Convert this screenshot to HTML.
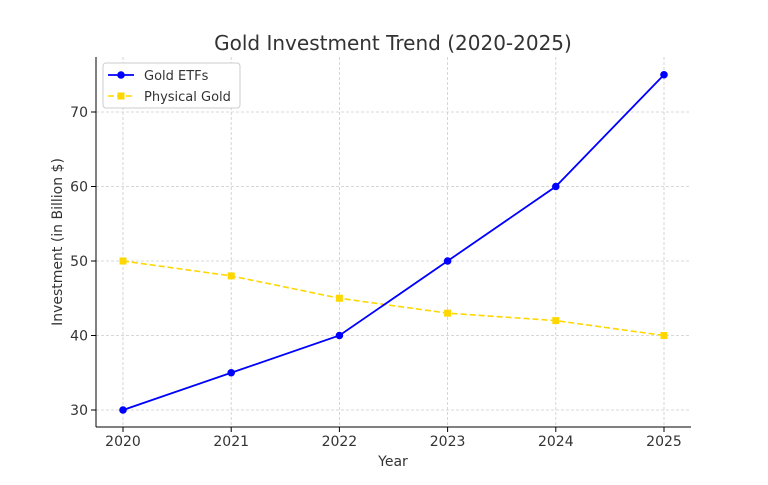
<!DOCTYPE html>
<html><head><meta charset="utf-8"><style>
body{margin:0;background:#fff;font-family:"Liberation Sans","DejaVu Sans",sans-serif}
</style></head><body>
<svg width="768" height="480" viewBox="0 0 768 480" id="chart" font-family="DejaVu Sans, Liberation Sans, sans-serif"></svg>
<script>
const years=[2020,2021,2022,2023,2024,2025];
const etfValues=[30,35,40,50,60,75];
const physicalValues=[50,48,45,43,42,40];
const yTicks=[30,40,50,60,70];
const NS="http://www.w3.org/2000/svg";
const svg=document.getElementById('chart');
const L=96,R=691,T=57,B=427;
function x(v){return 123+(v-2020)*(664-123)/5;}
function y(v){return 410-(v-30)*(410-112)/40;}
function mk(tag,attrs,name,parent){const e=document.createElementNS(NS,tag);for(const k in attrs)e.setAttribute(k,attrs[k]);


(parent||svg).appendChild(e);return e;}
// grid
years.forEach(v=>{mk('line',{x1:x(v),x2:x(v),y1:T,y2:B,stroke:'#ccc','stroke-dasharray':'3,2','stroke-width':0.8},'x-grid-line');});
yTicks.forEach(v=>{mk('line',{x1:L,x2:R,y1:y(v),y2:y(v),stroke:'#ccc','stroke-dasharray':'3,2','stroke-width':0.8},'y-grid-line');});
// axes
mk('line',{x1:L,x2:L,y1:T,y2:B,stroke:'#000','stroke-width':1},'y-axis');
mk('line',{x1:L,x2:R,y1:B,y2:B,stroke:'#000','stroke-width':1},'x-axis');
years.forEach(v=>{mk('line',{x1:x(v),x2:x(v),y1:B,y2:B+5,stroke:'#000'},'x-tick');
const t=mk('text',{x:x(v),y:B+19,'text-anchor':'middle','font-size':14,fill:'#333'},'x-tick-label');t.textContent=v;});
yTicks.forEach(v=>{mk('line',{x1:L-5,x2:L,y1:y(v),y2:y(v),stroke:'#000'},'y-tick');
const t=mk('text',{x:L-8,y:y(v)+5,'text-anchor':'end','font-size':14,fill:'#333'},'y-tick-label');t.textContent=v;});
// titles
let t=mk('text',{x:393,y:50,'text-anchor':'middle','font-size':20,fill:'#333'},'chart-title');t.textContent='Gold Investment Trend (2020-2025)';
t=mk('text',{x:393,y:466,'text-anchor':'middle','font-size':14,fill:'#333'},'x-axis-title');t.textContent='Year';
t=mk('text',{x:0,y:0,'text-anchor':'middle','font-size':14,fill:'#333',transform:'translate(62,242) rotate(-90)'},'y-axis-title');t.textContent='Investment (in Billion $)';
// series
mk('polyline',{points:years.map((v,i)=>x(v)+','+y(physicalValues[i])).join(' '),fill:'none',stroke:'#FFD700','stroke-width':1.6,'stroke-dasharray':'6,3'},'physical-gold-line');
years.forEach((v,i)=>mk('rect',{x:x(v)-3.5,y:y(physicalValues[i])-3.5,width:7,height:7,fill:'#FFD700'},'physical-gold-marker'));
mk('polyline',{points:years.map((v,i)=>x(v)+','+y(etfValues[i])).join(' '),fill:'none',stroke:'#0000FF','stroke-width':1.8},'gold-etf-line');
years.forEach((v,i)=>mk('circle',{cx:x(v),cy:y(etfValues[i]),r:3.8,fill:'#0000FF'},'gold-etf-marker'));
// legend
const g=mk('g',{},'legend');
mk('rect',{x:103,y:63,width:137,height:45,rx:3,fill:'#fff',stroke:'#ccc'},'legend-box',g);
mk('line',{x1:108,x2:134,y1:75,y2:75,stroke:'#0000FF','stroke-width':1.8},'legend-etf-line',g);
mk('circle',{cx:121,cy:75,r:3.8,fill:'#0000FF'},'legend-etf-marker',g);
t=mk('text',{x:144,y:80,'font-size':13,fill:'#333'},'legend-etf-label',g);t.textContent='Gold ETFs';
mk('line',{x1:108,x2:134,y1:96,y2:96,stroke:'#FFD700','stroke-width':1.6,'stroke-dasharray':'6,3'},'legend-physical-line',g);
mk('rect',{x:117.5,y:92.5,width:7,height:7,fill:'#FFD700'},'legend-physical-marker',g);
t=mk('text',{x:144,y:101,'font-size':13,fill:'#333'},'legend-physical-label',g);t.textContent='Physical Gold';
</script>
</body></html>
